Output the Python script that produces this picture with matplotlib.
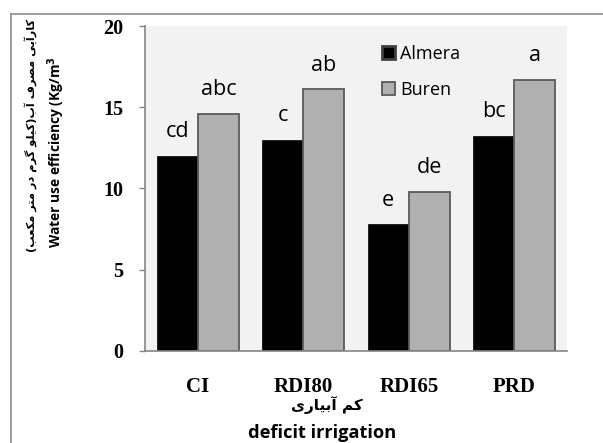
import matplotlib

matplotlib.use("Agg")
import matplotlib.pyplot as plt
import numpy as np
from matplotlib.lines import Line2D

# Data
categories = ["CI", "RDI80", "RDI65", "PRD"]
almera = [12.0, 13.0, 7.8, 13.25]
buren = [14.6, 16.1, 9.8, 16.7]
almera_letters = ["cd", "c", "e", "bc"]
buren_letters = ["abc", "ab", "de", "a"]
series_names = ["Almera", "Buren"]
y_ticks = [0, 5, 10, 15, 20]

Y_LABEL_FA = "کارآیی مصرف آب(کیلو گرم در متر مکعب)"
Y_LABEL_EN = "Water use efficiency (Kg/m$^\\mathbf{3}$"
X_LABEL_FA = "کم آبیاری"
X_LABEL_EN = "deficit irrigation"

ALMERA_COLOR = "#000000"
BUREN_COLOR = "#b0b0b0"
BUREN_EDGE = "#5a5a5a"
PLOT_BG = "#f2f2f2"
AXIS_COLOR = "#868686"
SANS = "Open Sans"

# Arabic presentation forms: (isolated, final, initial, medial)
FORMS = {
    "ا": ("\uFE8D", "\uFE8E", None, None),
    "آ": ("\uFE81", "\uFE82", None, None),
    "ب": ("\uFE8F", "\uFE90", "\uFE91", "\uFE92"),
    "ت": ("\uFE95", "\uFE96", "\uFE97", "\uFE98"),
    "د": ("\uFEA9", "\uFEAA", None, None),
    "ر": ("\uFEAD", "\uFEAE", None, None),
    "ص": ("\uFEB9", "\uFEBA", "\uFEBB", "\uFEBC"),
    "ع": ("\uFEC9", "\uFECA", "\uFECB", "\uFECC"),
    "ف": ("\uFED1", "\uFED2", "\uFED3", "\uFED4"),
    "ل": ("\uFEDD", "\uFEDE", "\uFEDF", "\uFEE0"),
    "م": ("\uFEE1", "\uFEE2", "\uFEE3", "\uFEE4"),
    "و": ("\uFEED", "\uFEEE", None, None),
    "ک": ("\uFB8E", "\uFB8F", "\uFB90", "\uFB91"),
    "گ": ("\uFB92", "\uFB93", "\uFB94", "\uFB95"),
    "ی": ("\uFBFC", "\uFBFD", "\uFBFE", "\uFBFF"),
}
MIRROR = {"(": ")", ")": "("}


def shape_persian(text: str) -> str:
    """Join letters with presentation forms and flip to visual order."""
    out = []
    for i, ch in enumerate(text):
        if ch not in FORMS:
            out.append(MIRROR.get(ch, ch))
            continue
        iso, fin, ini, med = FORMS[ch]
        prev = text[i - 1] if i > 0 else ""
        nxt = text[i + 1] if i + 1 < len(text) else ""
        prev_joins = prev in FORMS and FORMS[prev][2] is not None
        next_joins = nxt in FORMS
        if prev_joins and next_joins and med:
            out.append(med)
        elif prev_joins:
            out.append(fin)
        elif next_joins and ini:
            out.append(ini)
        else:
            out.append(iso)
    return "".join(reversed(out))


def fit_length(fig, txt, target_px, vertical=False):
    """Rescale a text's font so its long side spans target_px."""
    renderer = fig.canvas.get_renderer()
    bb = txt.get_window_extent(renderer)
    size = bb.height if vertical else bb.width
    txt.set_fontsize(txt.get_fontsize() * target_px / size)


def main() -> None:
    fig = plt.figure(figsize=(6.03, 4.43), dpi=100)
    ax = fig.add_axes([0.2405, 0.2077, 0.6998, 0.7336])
    ax.set_facecolor(PLOT_BG)

    x = np.arange(len(categories))
    width = 0.39
    bars_a = ax.bar(x - width / 2, almera, width, color=ALMERA_COLOR, edgecolor=ALMERA_COLOR,
                    linewidth=0.5, label=series_names[0], zorder=2)
    bars_b = ax.bar(x + width / 2, buren, width, color=BUREN_COLOR, edgecolor=BUREN_EDGE,
                    linewidth=1.3, label=series_names[1], zorder=2)

    # Significance letters above each bar
    for bars, letters in ((bars_a, almera_letters), (bars_b, buren_letters)):
        for bar, letter in zip(bars, letters):
            ax.text(bar.get_x() + bar.get_width() / 2, bar.get_height() + 1.15, letter,
                    ha="center", va="baseline", fontsize=15.5, family=SANS, color="black")

    ax.set_xlim(-0.5, len(categories) - 0.5)
    ax.set_ylim(0, 20)
    ax.set_yticks(y_ticks)
    ax.set_yticklabels([str(t) for t in y_ticks], family="Liberation Serif", fontweight="bold",
                       fontsize=14.5)
    ax.set_xticks(x)
    ax.set_xticklabels(categories, family="Liberation Serif", fontweight="bold", fontsize=15)
    ax.tick_params(axis="y", length=4.5, width=1, color=AXIS_COLOR, pad=11)
    ax.tick_params(axis="x", length=0, pad=19)

    for side in ("top", "right"):
        ax.spines[side].set_visible(False)
    for side in ("left", "bottom"):
        ax.spines[side].set_color(AXIS_COLOR)
        ax.spines[side].set_linewidth(1.2)

    leg = ax.legend(loc="upper left", bbox_to_anchor=(0.54, 0.97), frameon=False,
                    prop={"family": SANS, "size": 13}, handlelength=0.72, handleheight=0.72,
                    handletextpad=0.3, labelspacing=1.0, borderpad=0)
    leg.legend_handles[0].set_edgecolor("#404040")
    leg.legend_handles[0].set_linewidth(2)

    # Axis titles (Persian + English)
    y_fa = fig.text(0.05, 1 - 252 / 443, shape_persian(Y_LABEL_FA), rotation=90, ha="center",
                    va="bottom", family="DejaVu Sans", fontweight="bold", fontsize=10)
    y_en = fig.text(0.094, 1 - 248 / 443, Y_LABEL_EN, rotation=90, ha="center", va="bottom",
                    family=SANS, fontweight="bold", fontsize=12)
    x_fa = fig.text(0.542, 1 - 405 / 443, shape_persian(X_LABEL_FA), ha="center", va="center",
                    family="DejaVu Sans", fontweight="bold", fontsize=10)
    x_en = fig.text(0.535, 1 - 433 / 443, X_LABEL_EN, ha="center", va="center",
                    family=SANS, fontweight="bold", fontsize=12)
    fit_length(fig, y_fa, 234, vertical=True)
    fit_length(fig, y_en, 191, vertical=True)
    fit_length(fig, x_fa, 72)
    fit_length(fig, x_en, 149)

    # Outer chart frame (only top and left edges fall inside the image)
    frame_x = 10.5 / 603
    frame_y = 1 - 13.5 / 443
    fig.add_artist(Line2D([frame_x, 1], [frame_y, frame_y], color="#8c8c8c", linewidth=1.2))
    fig.add_artist(Line2D([frame_x, frame_x], [0, frame_y], color="#8c8c8c", linewidth=1.2))

    fig.savefig("out.png", dpi=100)
    plt.close(fig)


if __name__ == "__main__":
    main()
